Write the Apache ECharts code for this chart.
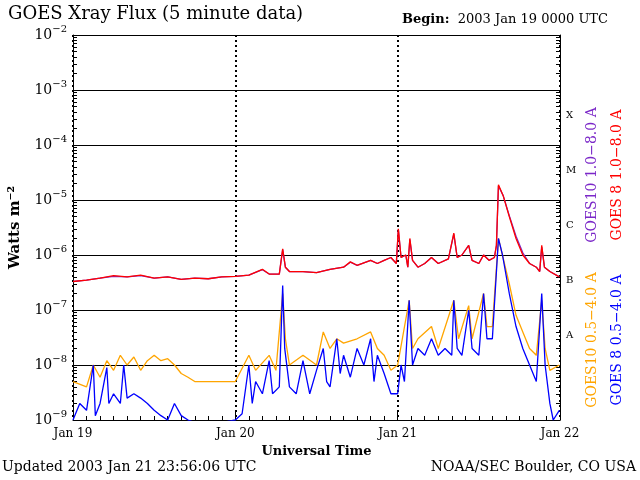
<!DOCTYPE html>
<html>
<head>
    <meta charset="UTF-8" />
    <title>GOES Xray Flux</title>
    <script src="https://cdn.jsdelivr.net/npm/echarts@6/dist/echarts.min.js"></script>
    <style>
        html, body { margin: 0; padding: 0; background: #fff; }
        #chart { width: 640px; height: 480px; }
    </style>
</head>
<body>
    <div id="chart"></div>
    <script type="text/javascript">
        // hours since 2003 Jan 19 00:00 UTC, flux in W/m^2
        const dayLabels = ['Jan 19', 'Jan 20', 'Jan 21', 'Jan 22'];
        const classLabels = ['X', 'M', 'C', 'B', 'A'];

        // GOES 8 1.0-8.0 A
        const goes8Long = [[0,3.3e-7],[2,3.5e-7],[4,3.8e-7],[6,4.2e-7],[8,4e-7],[10,4.3e-7],[12,3.8e-7],[14,4e-7],[16,3.6e-7],[18,3.8e-7],[20,3.7e-7],[22,4e-7],[24,4.1e-7],[26,4.3e-7],[28,5.5e-7],[29,4.5e-7],[30.5,4.5e-7],[31,1.3e-6],[31.4,6e-7],[32,5e-7],[34,5e-7],[36,4.8e-7],[38,5.5e-7],[40,6e-7],[41,7.5e-7],[42,6.5e-7],[44,8e-7],[45,7e-7],[46,8e-7],[47,9e-7],[47.8,7e-7],[48.1,3e-6],[48.5,9e-7],[49.2,1e-6],[49.5,6e-7],[49.8,2e-6],[50.2,8e-7],[51,6e-7],[52,7e-7],[53,9e-7],[54,7e-7],[55.5,8.5e-7],[56.3,2.5e-6],[56.8,9e-7],[57.5,1e-6],[58.5,1.5e-6],[59,8e-7],[60,7e-7],[60.7,1e-6],[61.5,8e-7],[62.3,9e-7],[62.6,1.5e-6],[62.9,1.9e-5],[63.6,1.2e-5],[64.5,5e-6],[65.5,2e-6],[66.5,1e-6],[67.5,7e-7],[68.5,6e-7],[69,5e-7],[69.3,1.5e-6],[69.7,6e-7],[70.5,5e-7],[71.9,4e-7]];
        // GOES10 1.0-8.0 A (almost hidden under GOES 8)
        const goes10Long = [[0,3.3e-7],[2,3.5e-7],[4,3.8e-7],[6,4.1e-7],[8,4e-7],[10,4.2e-7],[12,3.8e-7],[14,4e-7],[16,3.6e-7],[18,3.8e-7],[20,3.7e-7],[22,4e-7],[24,4.1e-7],[26,4.3e-7],[28,5.4e-7],[29,4.5e-7],[30.5,4.5e-7],[31,1.25e-6],[31.4,6e-7],[32,5e-7],[34,5e-7],[36,4.8e-7],[38,5.5e-7],[40,6e-7],[41,7.4e-7],[42,6.5e-7],[44,8e-7],[45,7e-7],[46,8e-7],[47,9e-7],[47.8,7e-7],[48.1,2.9e-6],[48.5,9e-7],[49.2,1e-6],[49.5,6e-7],[49.8,1.9e-6],[50.2,8e-7],[51,6e-7],[52,7e-7],[53,9e-7],[54,7e-7],[55.5,8.5e-7],[56.3,2.4e-6],[56.8,9e-7],[57.5,1e-6],[58.5,1.5e-6],[59,8e-7],[60,7e-7],[60.7,1e-6],[61.5,8e-7],[62.3,9e-7],[62.6,1.5e-6],[62.9,1.8e-5],[63.6,1.2e-5],[64.5,5.2e-6],[65.5,2.2e-6],[66.5,1.1e-6],[67.5,7e-7],[68.5,6e-7],[69,5e-7],[69.3,1.4e-6],[69.7,6e-7],[70.5,5e-7],[71.9,4e-7]];

        // GOES10 0.5-4.0 A
        const goes10Short = [[0,5e-9],[2,4e-9],[3,1e-8],[4,6e-9],[5,1.2e-8],[6,8e-9],[7,1.5e-8],[8,1e-8],[9,1.4e-8],[10,8e-9],[11,1.2e-8],[12,1.5e-8],[13,1.2e-8],[14,1.3e-8],[15,1e-8],[16,7e-9],[17,6e-9],[18,5e-9],[20,5e-9],[22,5e-9],[24,5e-9],[26,1.5e-8],[27,8e-9],[29,1.5e-8],[30,8e-9],[31,2e-7],[31.4,3e-8],[32,1e-8],[34,1.5e-8],[36,1e-8],[37,4e-8],[38,2e-8],[39,3e-8],[40,2.5e-8],[42,3e-8],[44,4e-8],[45,2e-8],[46,1.5e-8],[47,8e-9],[48,1e-8],[49.7,1.5e-7],[50.2,2e-8],[51,3e-8],[53,5e-8],[54,2e-8],[56.3,1.5e-7],[57,3e-8],[58.5,1.2e-7],[59,3e-8],[60.7,2e-7],[61.2,5e-8],[62,5e-8],[62.9,2e-6],[64.5,3e-7],[65.5,8e-8],[66.5,4e-8],[67.5,2e-8],[68.5,1.5e-8],[69.3,1.5e-7],[69.8,2e-8],[70.5,8e-9],[71.9,1e-8]];

        // GOES 8 0.5-4.0 A
        const goes8Short = [[0,1e-9],[1,2e-9],[2,1.5e-9],[3,1e-8],[3.3,1.2e-9],[4,2e-9],[5,9e-9],[5.3,2e-9],[6,3e-9],[7,2e-9],[7.5,1e-8],[8,2.5e-9],[9,3e-9],[10,2.5e-9],[11,2e-9],[12,1.5e-9],[13,1.2e-9],[14,1e-9],[15,2e-9],[16,1.2e-9],[17,1e-9],[18,9e-10],[20,8e-10],[22,9e-10],[24,1e-9],[25,1.3e-9],[26,1e-8],[26.5,2e-9],[27,5e-9],[28,3e-9],[29,1.2e-8],[29.5,3e-9],[30.5,4e-9],[31,2.8e-7],[31.3,2e-8],[32,4e-9],[33,3e-9],[34,1.2e-8],[35,3e-9],[36,8e-9],[37,2e-8],[37.5,5e-9],[38,4e-9],[39,3e-8],[39.5,7e-9],[40,1.5e-8],[41,6e-9],[42,2e-8],[43,1e-8],[44,3e-8],[44.5,5e-9],[45,1.5e-8],[46,7e-9],[47,3e-9],[48,3e-9],[48.5,1e-8],[49,5e-9],[49.7,1.5e-7],[50.2,1e-8],[51,2e-8],[52,1.5e-8],[53,3e-8],[54,1.5e-8],[55,2e-8],[56,1.5e-8],[56.3,1.5e-7],[56.8,2e-8],[57.5,1.5e-8],[58.5,1e-7],[59,2e-8],[60,1.5e-8],[60.7,2e-7],[61.2,3e-8],[62,3e-8],[62.9,2e-6],[63.5,1e-6],[64.5,2e-7],[65.5,5e-8],[66.5,2e-8],[67.5,1e-8],[68.5,5e-9],[69.3,2e-7],[69.8,1e-8],[70.5,2e-9],[71,1e-9],[71.9,1.5e-9]];

        const font = 'DejaVu Serif';
        let chart = echarts.init(document.getElementById('chart'));

        let expLabel = value => {
            let e = Math.round(Math.log10(value));
            return '{b|10}{s|' + String(e).replace('-', '\u2212') + '}';
        };
        let yRich = {
            b: { fontFamily: font, fontSize: 14, color: '#000' },
            s: { fontFamily: font, fontSize: 10, color: '#000', padding: [0, 0, 12, 0] }
        };

        let line = (name, data, color) => ({
            name: name, type: 'line', data: data, symbol: 'none',
            lineStyle: { color: color, width: 1.3 }, animation: false
        });

        let classText = classLabels.map((c, i) => ({
            type: 'text', left: 566, top: 110 + i * 55,
            style: { text: c, font: '10px ' + font, fill: '#000' }
        }));

        let vText = (text, x, y, color) => ({
            type: 'text', x: x, y: y, rotation: Math.PI / 2,
            style: { text: text, font: '14px ' + font, fill: color, textAlign: 'center', textVerticalAlign: 'middle' }
        });

        let option = {
            backgroundColor: '#fff',
            grid: { left: 72, right: 80, top: 35, bottom: 60 },
            xAxis: {
                type: 'value', min: 0, max: 72, interval: 24,
                name: 'Universal Time', nameLocation: 'middle', nameGap: 20,
                nameTextStyle: { fontFamily: font, fontSize: 13, fontWeight: 'bold', color: '#000' },
                axisLine: { lineStyle: { color: '#000' } },
                axisTick: { inside: true, length: 8, lineStyle: { color: '#000' } },
                minorTick: { show: true, splitNumber: 12, length: 4, lineStyle: { color: '#000' } },
                axisLabel: { fontFamily: font, fontSize: 12, color: '#000', formatter: v => dayLabels[v / 24] },
                splitLine: { show: true, lineStyle: { color: '#000', width: 2, type: [2, 3] } }
            },
            yAxis: [{
                type: 'log', logBase: 10, min: 1e-9, max: 1e-2,
                name: 'Watts m\u207B\u00B2', nameLocation: 'middle', nameGap: 50,
                nameTextStyle: { fontFamily: font, fontSize: 15, fontWeight: 'bold', color: '#000' },
                axisLine: { lineStyle: { color: '#000' } },
                axisTick: { inside: true, length: 8, lineStyle: { color: '#000' } },
                minorTick: { show: true, splitNumber: 9, length: 4, lineStyle: { color: '#000' } },
                axisLabel: { formatter: expLabel, rich: yRich, margin: 6 },
                splitLine: { show: true, lineStyle: { color: '#000', width: 1 } }
            }, {
                type: 'log', logBase: 10, min: 1e-9, max: 1e-2, position: 'right',
                axisLine: { show: true, lineStyle: { color: '#000' } },
                axisTick: { inside: true, length: 8, lineStyle: { color: '#000' } },
                minorTick: { show: true, splitNumber: 9, length: 4, lineStyle: { color: '#000' } },
                axisLabel: { show: false },
                splitLine: { show: false }
            }],
            series: [
                line('GOES10 1.0-8.0 A', goes10Long, '#7b28c8'),
                line('GOES 8 1.0-8.0 A', goes8Long, '#ff0000'),
                line('GOES10 0.5-4.0 A', goes10Short, '#ffa500'),
                line('GOES 8 0.5-4.0 A', goes8Short, '#0000ff')
            ],
            graphic: [
                { type: 'text', left: 8, top: 5, style: { text: 'GOES Xray Flux (5 minute data)', font: '18px ' + font, fill: '#000' } },
                { type: 'text', left: 402, top: 13, style: { text: '{b|Begin:}  2003 Jan 19 0000 UTC', font: '13px ' + font, fill: '#000', rich: { b: { fontFamily: font, fontSize: 13, fontWeight: 'bold' } } } },
                { type: 'text', left: 2, top: 460, style: { text: 'Updated 2003 Jan 21 23:56:06 UTC', font: '14px ' + font, fill: '#000' } },
                { type: 'text', right: 4, top: 460, style: { text: 'NOAA/SEC Boulder, CO USA', font: '14px ' + font, fill: '#000' } },
                vText('GOES10 1.0\u22128.0 A', 592, 175, '#7b28c8'),
                vText('GOES 8 1.0\u22128.0 A', 617, 175, '#ff0000'),
                vText('GOES10 0.5\u22124.0 A', 592, 340, '#ffa500'),
                vText('GOES 8 0.5\u22124.0 A', 617, 340, '#0000ff')
            ].concat(classText)
        };
        chart.setOption(option);
    </script>
</body>
</html>
